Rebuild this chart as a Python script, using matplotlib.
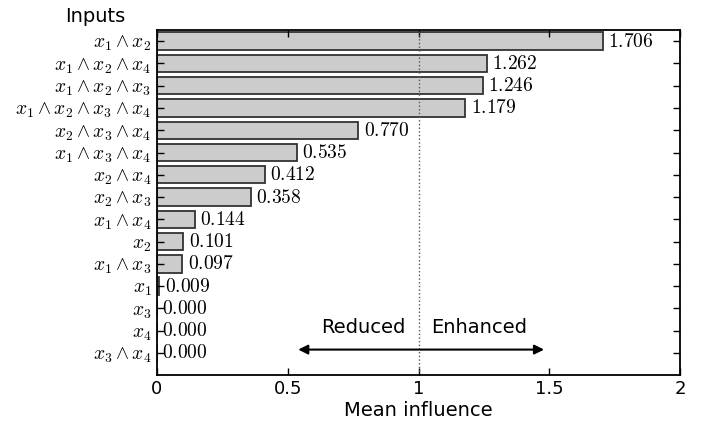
import matplotlib.pyplot as plt
import numpy as np

plt.rcParams['mathtext.fontset'] = 'cm'
plt.rcParams['font.family'] = 'DejaVu Sans'

# Data
inputs = [r'x_1 \wedge x_2', r'x_1 \wedge x_2 \wedge x_4', r'x_1 \wedge x_2 \wedge x_3',
          r'x_1 \wedge x_2 \wedge x_3 \wedge x_4', r'x_2 \wedge x_3 \wedge x_4',
          r'x_1 \wedge x_3 \wedge x_4', r'x_2 \wedge x_4', r'x_2 \wedge x_3',
          r'x_1 \wedge x_4', r'x_2', r'x_1 \wedge x_3', r'x_1', r'x_3', r'x_4',
          r'x_3 \wedge x_4']
influence = [1.706, 1.262, 1.246, 1.179, 0.770, 0.535, 0.412, 0.358,
             0.144, 0.101, 0.097, 0.009, 0.000, 0.000, 0.000]

fig = plt.figure(figsize=(7.04, 4.23), dpi=100)
ax = fig.add_axes([0.223, 0.113, 0.743, 0.816])

y = np.arange(len(inputs))
ax.barh(y, influence, height=0.78, color='#cccccc', edgecolor='#333333', linewidth=1.3)

for yi, v in zip(y, influence):
    ax.text(v + 0.02, yi, r'$\mathrm{%.3f}$' % v, va='center', ha='left', fontsize=14)

ax.axvline(1, color='#555555', linestyle=':', linewidth=1)

ax.set_xlim(0, 2)
ax.set_ylim(15.0, -0.5)
ax.set_yticks(y)
ax.set_yticklabels(['$%s$' % s for s in inputs], fontsize=14)
ax.set_xticks([0, 0.5, 1, 1.5, 2])
ax.set_xticklabels(['0', '0.5', '1', '1.5', '2'], fontsize=13)
ax.tick_params(direction='in', top=True, right=True, length=5, width=1)
ax.tick_params(axis='y', pad=4)
ax.set_xlabel('Mean influence', fontsize=14, labelpad=2)

for sp in ax.spines.values():
    sp.set_linewidth(1.3)

# Reduced / Enhanced arrow
ax.annotate('', xy=(0.54, 13.85), xytext=(1.48, 13.85),
            arrowprops=dict(arrowstyle='<|-|>', color='black', lw=1.5,
                            mutation_scale=14, shrinkA=0, shrinkB=0))
ax.text(0.95, 12.85, 'Reduced', ha='right', va='center', fontsize=14)
ax.text(1.05, 12.85, 'Enhanced', ha='left', va='center', fontsize=14)

fig.text(0.135, 0.96, 'Inputs', ha='center', va='center', fontsize=14)

fig.savefig('out.png', dpi=100)
